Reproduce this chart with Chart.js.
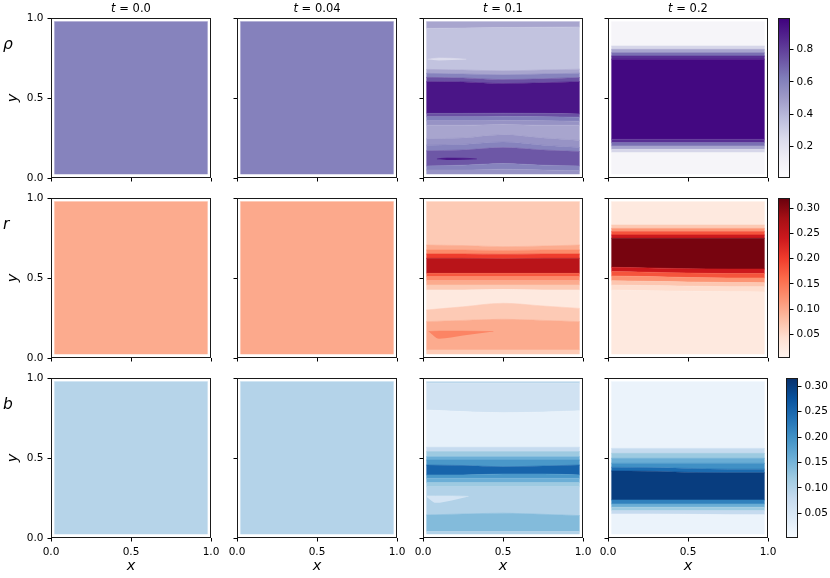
<!DOCTYPE html>
<html>
<head>
<meta charset="utf-8">
<script src="https://cdn.jsdelivr.net/npm/chart.js@4/dist/chart.umd.min.js"></script>
<style>
  body { margin: 0; background: #fff; }
  #fig { position: relative; width: 830px; height: 578px; overflow: hidden; font-family: "DejaVu Sans", sans-serif; }
  #fig canvas { position: absolute; }
  .ttl { position: absolute; width: 160px; text-align: center; font-size: 11.5px; line-height: 11.5px; color: #000; white-space: nowrap; }
  .fld { position: absolute; left: 3px; font-size: 15.5px; line-height: 15.5px; font-style: italic; color: #000; }
</style>
</head>
<body>
<div id="fig"></div>
<script>
// sample positions along x for every contour boundary
const XS = [0.02, 0.25, 0.5, 0.75, 0.98];
const TIMES = ['0.0', '0.04', '0.1', '0.2'];
const FIELDS = ['ρ', 'r', 'b'];
const AXIS_TICKS = [0, 0.5, 1];

const RHO_RANGE = [0.004, 0.996];
const R_RANGE = [0.003, 0.32];
const B_RANGE = [0.0015, 0.316];
const RHO_TICKS = [0.2, 0.4, 0.6, 0.8];
const R_TICKS = [0.05, 0.10, 0.15, 0.20, 0.25, 0.30];
const B_TICKS = [0.05, 0.10, 0.15, 0.20, 0.25, 0.30];

// uniform fields at t=0 and t=0.04
const FULL_EDGES = [
  [0.023, 0.023, 0.023, 0.023, 0.023],
  [0.977, 0.977, 0.977, 0.977, 0.977]
];
const rho0Levels = [0.6];
const rho1Levels = [0.605];
const r0Levels = [0.098];
const r1Levels = [0.1];
const b0Levels = [0.096];
const b1Levels = [0.098];

// rho, t=0.1 (boundaries bottom to top, band values between them)
const rho2Edges = [
  [0.023, 0.023, 0.023, 0.023, 0.023],
  [0.05, 0.05, 0.055, 0.05, 0.045],
  [0.075, 0.08, 0.09, 0.08, 0.075],
  [0.17, 0.175, 0.19, 0.175, 0.165],
  [0.205, 0.21, 0.225, 0.205, 0.19],
  [0.245, 0.25, 0.27, 0.25, 0.235],
  [0.33, 0.33, 0.335, 0.33, 0.33],
  [0.358, 0.358, 0.36, 0.358, 0.355],
  [0.383, 0.383, 0.385, 0.383, 0.38],
  [0.404, 0.404, 0.405, 0.404, 0.40],
  [0.602, 0.60, 0.59, 0.595, 0.602],
  [0.629, 0.625, 0.615, 0.62, 0.628],
  [0.654, 0.65, 0.645, 0.65, 0.655],
  [0.679, 0.675, 0.67, 0.675, 0.68],
  [0.935, 0.937, 0.94, 0.942, 0.944],
  [0.977, 0.977, 0.977, 0.977, 0.977]
];
const rho2Levels = [0.53, 0.6, 0.73, 0.6, 0.53, 0.46, 0.53, 0.62, 0.75, 0.93, 0.75, 0.6, 0.46, 0.35, 0.46];
const rho2Islands = [
  { x: [0.03, 0.1, 0.18, 0.27], lo: [0.742, 0.735, 0.737, 0.742], hi: [0.742, 0.75, 0.748, 0.742], level: 0.24 },
  { x: [0.087, 0.15, 0.25, 0.337], lo: [0.119, 0.113, 0.114, 0.119], hi: [0.119, 0.125, 0.124, 0.119], level: 0.92 }
];

// rho, t=0.2
const rho3Edges = [
  [0.023, 0.023, 0.023, 0.023, 0.023],
  [0.158, 0.158, 0.158, 0.158, 0.158],
  [0.179, 0.179, 0.179, 0.179, 0.179],
  [0.2, 0.2, 0.2, 0.2, 0.2],
  [0.221, 0.221, 0.221, 0.221, 0.221],
  [0.242, 0.242, 0.242, 0.242, 0.242],
  [0.742, 0.742, 0.742, 0.742, 0.742],
  [0.7625, 0.7625, 0.7625, 0.7625, 0.7625],
  [0.783, 0.783, 0.783, 0.783, 0.783],
  [0.804, 0.804, 0.804, 0.804, 0.804],
  [0.825, 0.825, 0.825, 0.825, 0.825],
  [0.977, 0.977, 0.977, 0.977, 0.977]
];
const rho3Levels = [0.06, 0.27, 0.46, 0.66, 0.85, 0.97, 0.85, 0.66, 0.46, 0.27, 0.06];

// r, t=0.1
const r2Edges = [
  [0.023, 0.023, 0.023, 0.023, 0.023],
  [0.05, 0.05, 0.05, 0.05, 0.05],
  [0.227, 0.235, 0.242, 0.235, 0.227],
  [0.30, 0.32, 0.342, 0.325, 0.31],
  [0.425, 0.425, 0.428, 0.425, 0.425],
  [0.456, 0.456, 0.456, 0.456, 0.456],
  [0.483, 0.483, 0.483, 0.483, 0.483],
  [0.508, 0.508, 0.508, 0.508, 0.508],
  [0.529, 0.529, 0.529, 0.529, 0.529],
  [0.623, 0.623, 0.62, 0.623, 0.623],
  [0.65, 0.65, 0.648, 0.65, 0.65],
  [0.675, 0.675, 0.672, 0.675, 0.675],
  [0.706, 0.703, 0.696, 0.70, 0.706],
  [0.977, 0.977, 0.977, 0.977, 0.977]
];
const r2Levels = [0.066, 0.098, 0.066, 0.025, 0.066, 0.098, 0.13, 0.177, 0.26, 0.2, 0.13, 0.098, 0.066];
const r2Islands = [
  { x: [0.035, 0.1, 0.25, 0.44], lo: [0.165, 0.12, 0.14, 0.165], hi: [0.165, 0.168, 0.168, 0.165], level: 0.136 }
];

// r, t=0.2
const r3Edges = [
  [0.023, 0.023, 0.023, 0.023, 0.023],
  [0.425, 0.421, 0.417, 0.414, 0.413],
  [0.456, 0.453, 0.449, 0.446, 0.445],
  [0.483, 0.479, 0.475, 0.472, 0.471],
  [0.5125, 0.509, 0.503, 0.5, 0.5],
  [0.54, 0.536, 0.531, 0.528, 0.528],
  [0.567, 0.563, 0.558, 0.556, 0.556],
  [0.748, 0.748, 0.748, 0.748, 0.748],
  [0.769, 0.769, 0.769, 0.769, 0.769],
  [0.79, 0.79, 0.79, 0.79, 0.79],
  [0.81, 0.81, 0.81, 0.81, 0.81],
  [0.831, 0.831, 0.831, 0.831, 0.831],
  [0.977, 0.977, 0.977, 0.977, 0.977]
];
const r3Levels = [0.025, 0.045, 0.07, 0.12, 0.18, 0.24, 0.31, 0.24, 0.18, 0.12, 0.066, 0.025];

// b, t=0.1
const b2Edges = [
  [0.023, 0.023, 0.023, 0.023, 0.023],
  [0.04, 0.04, 0.04, 0.04, 0.04],
  [0.144, 0.15, 0.155, 0.148, 0.14],
  [0.321, 0.321, 0.321, 0.321, 0.321],
  [0.346, 0.346, 0.346, 0.346, 0.346],
  [0.373, 0.373, 0.373, 0.373, 0.373],
  [0.394, 0.394, 0.40, 0.40, 0.394],
  [0.456, 0.453, 0.445, 0.45, 0.456],
  [0.4875, 0.4875, 0.4875, 0.4875, 0.4875],
  [0.508, 0.508, 0.508, 0.508, 0.508],
  [0.54, 0.54, 0.54, 0.54, 0.54],
  [0.567, 0.567, 0.567, 0.567, 0.567],
  [0.80, 0.79, 0.783, 0.787, 0.795],
  [0.965, 0.965, 0.965, 0.965, 0.965],
  [0.977, 0.977, 0.977, 0.977, 0.977]
];
const b2Levels = [0.1, 0.14, 0.1, 0.12, 0.159, 0.19, 0.253, 0.19, 0.159, 0.12, 0.08, 0.027, 0.064, 0.09];
const b2Islands = [
  { x: [0.025, 0.08, 0.18, 0.285], lo: [0.255, 0.22, 0.235, 0.26], hi: [0.263, 0.263, 0.263, 0.26], level: 0.055 }
];

// b, t=0.2
const b3Edges = [
  [0.023, 0.023, 0.023, 0.023, 0.023],
  [0.15, 0.15, 0.148, 0.146, 0.145],
  [0.171, 0.171, 0.171, 0.171, 0.171],
  [0.192, 0.192, 0.192, 0.192, 0.192],
  [0.2125, 0.2125, 0.2125, 0.2125, 0.2125],
  [0.2375, 0.2375, 0.2375, 0.2375, 0.2375],
  [0.419, 0.417, 0.41, 0.408, 0.408],
  [0.442, 0.44, 0.435, 0.43, 0.43],
  [0.467, 0.467, 0.467, 0.467, 0.467],
  [0.498, 0.498, 0.498, 0.498, 0.498],
  [0.529, 0.529, 0.529, 0.529, 0.529],
  [0.56, 0.56, 0.56, 0.56, 0.56],
  [0.977, 0.977, 0.977, 0.977, 0.977]
];
const b3Levels = [0.02, 0.08, 0.12, 0.16, 0.22, 0.30, 0.245, 0.2, 0.16, 0.12, 0.08, 0.02];

// colormaps (matplotlib Purples / Reds / Blues)
const PURPLES = ['#fcfbfd', '#efedf5', '#dadaeb', '#bcbddc', '#9e9ac8', '#807dba', '#6a51a3', '#54278f', '#3f007d'];
const REDS = ['#fff5f0', '#fee0d2', '#fcbba1', '#fc9272', '#fb6a4a', '#ef3b2c', '#cb181d', '#a50f15', '#67000d'];
const BLUES = ['#f7fbff', '#deebf7', '#c6dbef', '#9ecae1', '#6baed6', '#4292c6', '#2171b5', '#08519c', '#08306b'];

const COL_LEFT = [51, 237, 423, 608];
const ROW_TOP = [18, 198, 378];
const CB_LEFT = [778, 778, 786];
const FONT = 'DejaVu Sans';

function hexRgb(h) {
  return [1, 3, 5].map(i => parseInt(h.slice(i, i + 2), 16));
}

function cmap(stops, t) {
  t = Math.max(0, Math.min(1, t));
  const p = t * (stops.length - 1);
  const i = Math.min(stops.length - 2, Math.floor(p));
  const f = p - i;
  const a = hexRgb(stops[i]), b = hexRgb(stops[i + 1]);
  const c = a.map((v, k) => Math.round(v + (b[k] - v) * f));
  return `rgb(${c[0]},${c[1]},${c[2]})`;
}

const frame = {
  id: 'frame',
  afterDraw(chart) {
    const { ctx, chartArea: a } = chart;
    ctx.save();
    ctx.strokeStyle = '#1a1a1a';
    ctx.lineWidth = 1;
    ctx.strokeRect(a.left + 0.5, a.top + 0.5, a.right - a.left - 1, a.bottom - a.top - 1);
    ctx.restore();
  }
};

// keep label overhang from shrinking the plot area
function fixSize(s, w, h) {
  if (w !== null) s.width = w;
  if (h !== null) s.height = h;
  s.paddingTop = 0;
  s.paddingBottom = 0;
  s.paddingLeft = 0;
  s.paddingRight = 0;
}

const fig = document.getElementById('fig');

function addCanvas(left, top, w, h) {
  const cv = document.createElement('canvas');
  cv.width = w;
  cv.height = h;
  cv.style.left = left + 'px';
  cv.style.top = top + 'px';
  cv.style.width = w + 'px';
  cv.style.height = h + 'px';
  fig.appendChild(cv);
  return cv;
}

function lineDs(xs, ys, fill, col) {
  return {
    data: xs.map((x, i) => ({ x: x, y: ys[i] })),
    fill: fill,
    backgroundColor: col || 'rgba(0,0,0,0)',
    borderColor: col || 'rgba(0,0,0,0)',
    borderWidth: col ? 0.6 : 0,
    pointRadius: 0,
    cubicInterpolationMode: 'monotone'
  };
}

const gridOpts = { display: true, drawOnChartArea: false, drawTicks: true, tickLength: 3.5, color: '#000', lineWidth: 1 };

function panel(row, col, edges, levels, islands, stops, range) {
  const showY = col === 0, showX = row === 2;
  const padL = showY ? 51 : (showX ? 14 : 8), padB = showX ? 40 : 8, padT = 6, padR = showX ? 14 : 6;
  const left = COL_LEFT[col], top = ROW_TOP[row];
  const cv = addCanvas(left - padL, top - padT, 160 + padL + padR, 160 + padT + padB);
  const color = v => cmap(stops, (v - range[0]) / (range[1] - range[0]));

  const datasets = [];
  (islands || []).forEach(isl => {
    datasets.push(lineDs(isl.x, isl.lo, false, null));
    datasets.push(lineDs(isl.x, isl.hi, '-1', color(isl.level)));
  });
  edges.forEach((e, i) => {
    datasets.push(lineDs(XS, e, i === 0 ? false : '-1', i === 0 ? null : color(levels[i - 1])));
  });

  new Chart(cv, {
    type: 'line',
    data: { datasets: datasets },
    options: {
      responsive: false,
      animation: false,
      events: [],
      layout: { padding: { top: padT, right: padR, left: 0, bottom: 0 } },
      plugins: { legend: { display: false }, tooltip: { enabled: false } },
      scales: {
        x: {
          type: 'linear', min: 0, max: 1,
          afterBuildTicks: s => { s.ticks = AXIS_TICKS.map(v => ({ value: v })); },
          afterFit: s => fixSize(s, null, padB),
          grid: gridOpts,
          border: { display: false },
          ticks: {
            callback: v => showX ? v.toFixed(1) : '',
            font: { family: FONT, size: 10.5 }, color: '#000',
            padding: 4.5, maxRotation: 0, autoSkip: false
          },
          title: {
            display: showX, text: 'x', color: '#000',
            font: { family: FONT, size: 14.5, style: 'italic' },
            padding: { top: 0, bottom: 3.3 }
          }
        },
        y: {
          type: 'linear', min: 0, max: 1,
          afterBuildTicks: s => { s.ticks = AXIS_TICKS.map(v => ({ value: v })); },
          afterFit: s => fixSize(s, padL, null),
          grid: gridOpts,
          border: { display: false },
          ticks: {
            callback: v => showY ? v.toFixed(1) : '',
            font: { family: FONT, size: 10.5 }, color: '#000',
            padding: 4, autoSkip: false
          },
          title: {
            display: showY, text: 'y', color: '#000',
            font: { family: FONT, size: 14.5, style: 'italic' },
            padding: { top: 4.3, bottom: 0 }
          }
        }
      }
    },
    plugins: [frame]
  });
}

function colorbar(row, stops, range, ticks, digits) {
  const padT = 6;
  const cv = addCanvas(CB_LEFT[row], ROW_TOP[row] - padT, 12 + 40, 160 + 2 * padT);
  new Chart(cv, {
    type: 'bar',
    data: {
      labels: [''],
      datasets: [{
        data: [[range[0], range[1]]],
        barPercentage: 1, categoryPercentage: 1, borderWidth: 0,
        backgroundColor: c => {
          const ch = c.chart, y = ch.scales.y;
          if (!ch.chartArea || !y) return stops[0];
          const g = ch.ctx.createLinearGradient(0, y.getPixelForValue(range[0]), 0, y.getPixelForValue(range[1]));
          stops.forEach((s, i) => g.addColorStop(i / (stops.length - 1), s));
          return g;
        }
      }]
    },
    options: {
      responsive: false,
      animation: false,
      events: [],
      layout: { padding: { top: padT, bottom: padT, left: 0, right: 0 } },
      plugins: { legend: { display: false }, tooltip: { enabled: false } },
      scales: {
        x: { display: false },
        y: {
          position: 'right', min: range[0], max: range[1],
          afterBuildTicks: s => { s.ticks = ticks.map(v => ({ value: v })); },
          afterFit: s => fixSize(s, 40, null),
          grid: gridOpts,
          border: { display: false },
          ticks: {
            callback: v => v.toFixed(digits),
            font: { family: FONT, size: 10.5 }, color: '#000',
            padding: 3, autoSkip: false
          }
        }
      }
    },
    plugins: [frame]
  });
}

const rows = [
  { stops: PURPLES, range: RHO_RANGE, ticks: RHO_TICKS, digits: 1,
    panels: [[FULL_EDGES, rho0Levels], [FULL_EDGES, rho1Levels], [rho2Edges, rho2Levels, rho2Islands], [rho3Edges, rho3Levels]] },
  { stops: REDS, range: R_RANGE, ticks: R_TICKS, digits: 2,
    panels: [[FULL_EDGES, r0Levels], [FULL_EDGES, r1Levels], [r2Edges, r2Levels, r2Islands], [r3Edges, r3Levels]] },
  { stops: BLUES, range: B_RANGE, ticks: B_TICKS, digits: 2,
    panels: [[FULL_EDGES, b0Levels], [FULL_EDGES, b1Levels], [b2Edges, b2Levels, b2Islands], [b3Edges, b3Levels]] }
];

rows.forEach((r, ri) => {
  r.panels.forEach((p, ci) => panel(ri, ci, p[0], p[1], p[2], r.stops, r.range));
  colorbar(ri, r.stops, r.range, r.ticks, r.digits);
});

// column titles and field labels
TIMES.forEach((t, ci) => {
  const d = document.createElement('div');
  d.className = 'ttl';
  d.style.left = COL_LEFT[ci] + 'px';
  d.style.top = '3px';
  d.innerHTML = '<i>t</i> = ' + t;
  fig.appendChild(d);
});
FIELDS.forEach((f, ri) => {
  const d = document.createElement('div');
  d.className = 'fld';
  d.style.top = (ROW_TOP[ri] + 19) + 'px';
  d.textContent = f;
  fig.appendChild(d);
});
</script>
</body>
</html>
